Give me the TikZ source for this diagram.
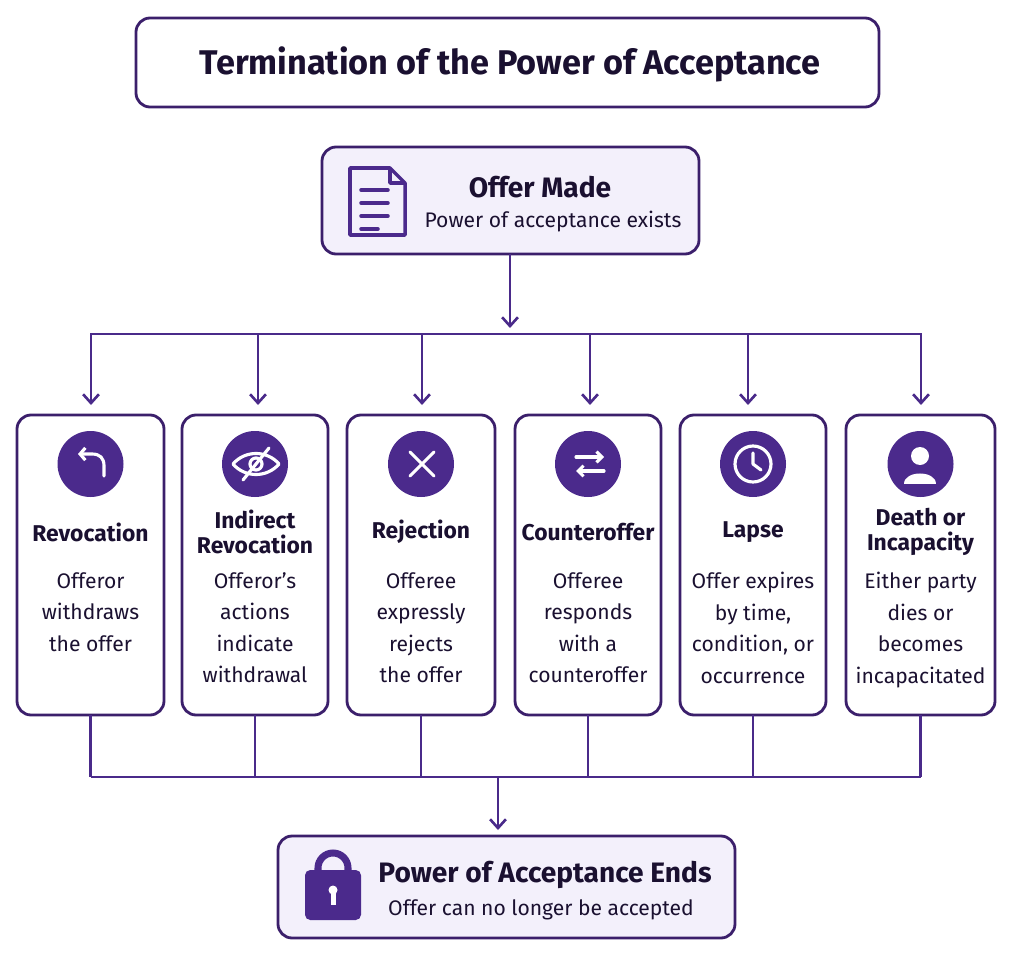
\documentclass[tikz,border=0pt]{standalone}
\usepackage{fontspec}
\setmainfont{Fira Sans}
\usetikzlibrary{positioning,arrows.meta}
\definecolor{edgepurple}{HTML}{3B1F6B}
\definecolor{linepurple}{HTML}{4A2A8A}
\definecolor{iconpurple}{HTML}{4B2A8C}
\definecolor{lavender}{HTML}{F3F0FB}
\definecolor{inktext}{HTML}{1A1030}
\tikzset{
  panel/.style={draw=edgepurple,line width=1.6pt,rounded corners=8pt},
  bus/.style={draw=linepurple,line width=1.5pt},
  tip/.style={bus,-{Straight Barb[length=5pt,width=9pt]}},
  badge/.style={circle,fill=iconpurple,minimum size=66*0.02cm,inner sep=0pt},
  glyph/.style={draw=white,line width=1.8pt,line cap=round,line join=round},
  head/.style={font=\fontsize{13}{14.5}\selectfont\bfseries,text=inktext,align=center},
  body/.style={font=\fontsize{12}{18}\selectfont,text=inktext,align=center}
}
\begin{document}
\begin{tikzpicture}[x=0.02cm,y=-0.02cm]
\useasboundingbox (0,0) rectangle (1013,956);
% title
\draw[panel] (136,18) rectangle (879,107);
\node (title) at (510,64) {\fontsize{19.5}{22}\selectfont\bfseries\color{inktext}Termination of the Power of Acceptance};
% top box
\draw[panel,fill=lavender] (322,147) rectangle (699,254);
\node (offer) at (510,254) {};
\node[head,font=\fontsize{16}{18}\selectfont\bfseries] (offerhead) at (540,187) {Offer Made};
\node[body] (offerbody) at (553,222) {Power of acceptance exists};
% document icon
\draw[line width=2pt,draw=iconpurple,line join=round] (350,168) -- (390,168) -- (405,183) -- (405,235) -- (350,235) -- cycle;
\draw[line width=2pt,draw=iconpurple,line join=round] (390,168) -- (390,183) -- (405,183);
\foreach \yy/\xx in {190/388,203/388,216/388,229/378}
  \draw[line width=2pt,draw=iconpurple,line cap=round] (361,\yy) -- (\xx,\yy);
% top bus
\coordinate (split) at (510,334);
\draw[tip] (offer.center) -- (510,328);
\draw[bus] (91,402) -- (91,334) -- (921,334) -- (921,402);
% branch boxes
\foreach \n/\xl/\xr/\hd/\bd in {
  rev/17/164/Revocation/{Offeror\\withdraws\\the offer},
  ind/182/328/{Indirect\\Revocation}/{Offeror’s\\actions\\indicate\\withdrawal},
  rej/347/495/Rejection/{Offeree\\expressly\\rejects\\the offer},
  cnt/515/661/Counteroffer/{Offeree\\responds\\with a\\counteroffer},
  lap/680/826/Lapse/{Offer expires\\by time,\\condition, or\\occurrence},
  dth/846/995/{Death or\\Incapacity}/{Either party\\dies or\\becomes\\incapacitated}}{
  \pgfmathsetmacro{\xm}{(\xl+\xr)/2}
  \draw[panel] (\xl,415) rectangle (\xr,715);
  \node[badge] (\n icon) at (\xm,464) {};
  \node[head] (\n head) at (\xm,532) {\hd};
  \node[body,anchor=north] (\n body) at (\xm,566) {\bd};
  \coordinate (\n top) at (\xm,415);
  \coordinate (\n bot) at (\xm,715);
}
\foreach \n/\xm in {rev/91,ind/258,rej/422,cnt/590,lap/748,dth/921}
  \draw[tip] (\xm,334) -- ([yshift=10*0.02cm]\n top -| \xm,0);
% icons
\draw[glyph,-{Straight Barb[length=3pt,width=7pt]}] (104,476) -- (104,466) .. controls (104,458) and (100,454) .. (92,454) -- (78,454);
\draw[glyph] (233,464) .. controls (245,450) and (267,450) .. (279,464) .. controls (267,478) and (245,478) .. (233,464);
\draw[glyph] (256,464) circle (6);
\draw[glyph] (243,480) -- (269,448);
\draw[glyph] (410,452) -- (434,476) (434,452) -- (410,476);
\draw[glyph,-{Straight Barb[length=3pt,width=6pt]}] (576,457) -- (604,457);
\draw[glyph,-{Straight Barb[length=3pt,width=6pt]}] (604,471) -- (576,471);
\draw[glyph] (753,464) circle (18);
\draw[glyph] (753,453) -- (753,464) -- (761,470);
\fill[white] (920,456) circle (9);
\fill[white] (904,484) .. controls (904,470) and (936,470) .. (936,484) -- cycle;
% bottom bus
\foreach \n in {rev,ind,rej,cnt,lap,dth}
  \draw[bus] (\n bot) -- (\n bot |- 0,777);
\draw[bus] (91,777) -- (921,777);
\node (merge) at (498,777) {};
\draw[tip] (merge.center) -- (498,830);
% result box
\draw[panel,fill=lavender] (278,836) rectangle (735,938);
\node[head,font=\fontsize{16}{18}\selectfont\bfseries] (endhead) at (545,875) {Power of Acceptance Ends};
\node[body] (endbody) at (541,910) {Offer can no longer be accepted};
% lock icon
\draw[draw=iconpurple,line width=4pt] (318,872) -- (318,868) arc (180:360:15) -- (348,872);
\fill[iconpurple,rounded corners=3pt] (305,870) rectangle (361,920);
\fill[white] (333,890) circle (4.5);
\fill[white] (330.5,892) rectangle (335.5,905);
\end{tikzpicture}
\end{document}
